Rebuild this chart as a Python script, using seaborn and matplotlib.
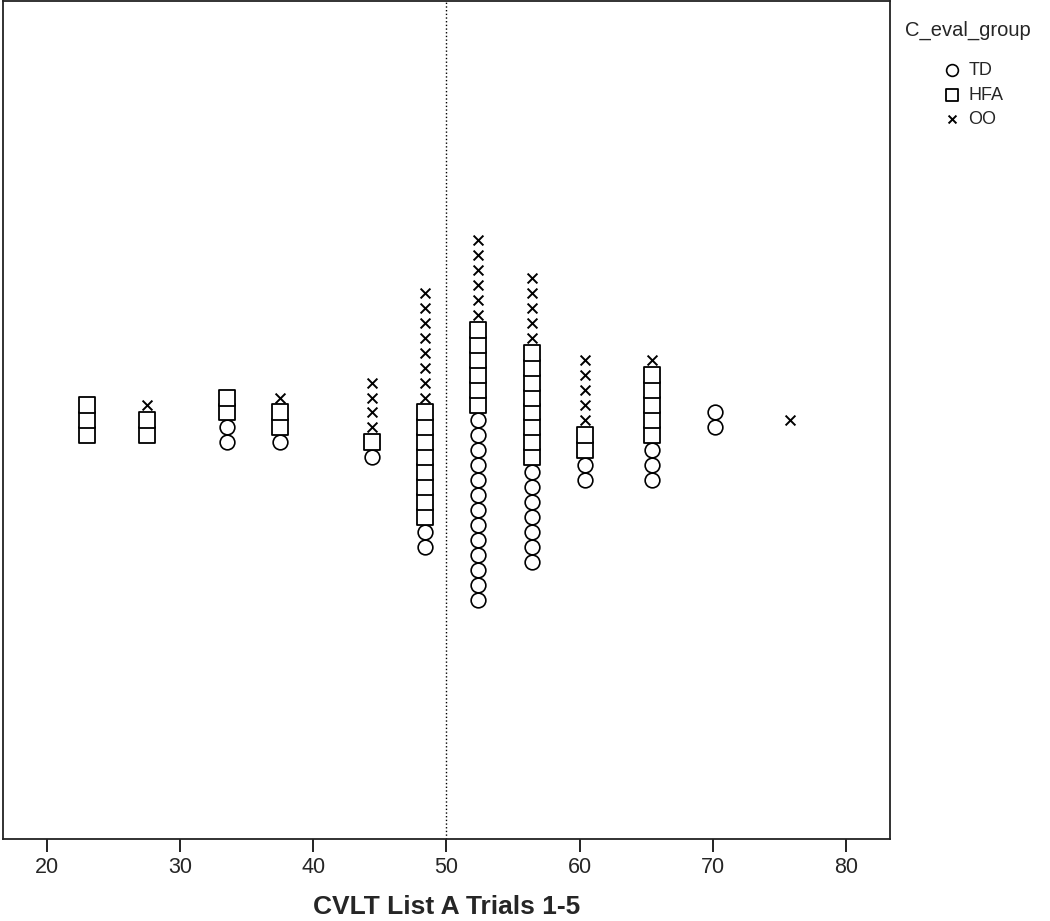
import numpy as np
import pandas as pd
import seaborn as sns
import matplotlib.pyplot as plt

# Dot plot data: bin centres and how many people of each group fall in each bin
scores = [23, 27.5, 33.5, 37.5, 44.4, 48.4, 52.4, 56.4, 60.4, 65.4, 70.2, 75.8]
td_counts = [0, 0, 2, 1, 1, 2, 13, 7, 2, 3, 2, 0]
hfa_counts = [3, 2, 2, 2, 1, 8, 6, 8, 2, 5, 0, 0]
oo_counts = [0, 1, 0, 1, 4, 8, 6, 5, 5, 1, 0, 1]
groups = ['TD', 'HFA', 'OO']

# Stack the dots symmetrically around 0 (TD bottom, then HFA, then OO)
rows = []
for score, counts in zip(scores, zip(td_counts, hfa_counts, oo_counts)):
    n = sum(counts)
    pos = 0
    for g, c in zip(groups, counts):
        for _ in range(c):
            rows.append((score, g, pos - (n - 1) / 2))
            pos += 1
df = pd.DataFrame(rows, columns=['score', 'C_eval_group', 'stack'])

sns.set_style('ticks')
plt.rcParams['font.family'] = ['Liberation Sans', 'DejaVu Sans']

fig = plt.figure(figsize=(10.5, 9.21), dpi=100)
ax = fig.add_axes([0.0026, 0.0890, 0.8450, 0.9100])

styles = {
    'TD': dict(marker='o', s=112, facecolor='white', edgecolor='black', linewidth=1.2),
    'HFA': dict(marker='s', s=117, facecolor='white', edgecolor='black', linewidth=1.3),
    'OO': dict(marker='x', s=50, color='black', linewidth=1.4),
}
for g in groups:
    sub = df[df['C_eval_group'] == g]
    sns.scatterplot(data=sub, x='score', y='stack', ax=ax, label=g,
                    legend=False, zorder=3, **styles[g])

ax.axvline(50, color='black', linestyle=':', linewidth=1.0, zorder=1)

ax.set_xlim(16.7, 83.3)
ax.set_ylim(-28, 28)
ax.set_yticks([])
ax.set_xticks(range(20, 81, 10))
ax.set_ylabel('')
ax.set_xlabel('CVLT List A Trials 1-5', fontsize=19, fontweight='bold',
              labelpad=12)
for lab in ax.get_xticklabels():
    lab.set_fontsize(15.5)
ax.tick_params(axis='x', length=9, width=1.4, pad=4, color='#222222')
for sp in ax.spines.values():
    sp.set_visible(True)
    sp.set_linewidth(1.3)
    sp.set_color('#222222')

# Legend outside the axes on the right
fig.text(905 / 1050, 1 - 36 / 921, 'C_eval_group', fontsize=14.5,
         ha='left', va='baseline')
ax.legend(loc='upper left', bbox_to_anchor=(943 / 1050, 1 - 62 / 921),
          bbox_transform=fig.transFigure, frameon=False, fontsize=13,
          markerscale=0.8, handlelength=1.0, handletextpad=0.4,
          labelspacing=0.42, borderpad=0, borderaxespad=0)

fig.savefig('out.png', dpi=100)
